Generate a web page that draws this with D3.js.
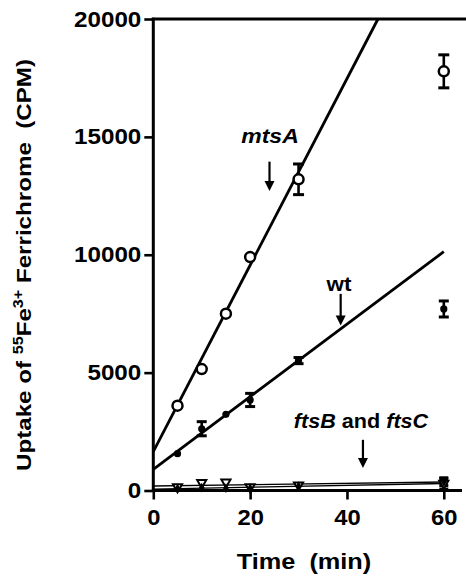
<!DOCTYPE html>
<html><head><meta charset="utf-8">
<script src="https://cdn.jsdelivr.net/npm/d3@7"></script>
<style>
html,body{margin:0;padding:0;background:#fff;}
svg text{font-family:"Liberation Sans",Arial,Helvetica,sans-serif;font-weight:bold;fill:#000;}
</style></head>
<body>
<svg id="chart" width="466" height="576"></svg>
<script>
// ---- data ----
const times = [5, 10, 15, 20, 30, 60];
const mtsA = [3600, 5150, 7500, 9900, 13200, 17780];
const mtsAErr = [0, 0, 0, 0, 650, 700];
const wt = [1560, 2620, 3230, 3840, 5510, 7700];
const wtErr = [0, 300, 0, 280, 130, 340];
const ftsB = [150, 330, 350, 150, 230, 300];
const ftsBErr = [0, 0, 0, 0, 0, 240];
const ftsC = [80, 120, 100, 100, 180, 360];
const ftsCErr = [0, 0, 0, 0, 0, 150];
const mtsAFit = [[0, 1650], [46.4, 20000]];
const wtFit = [[0, 900], [60, 10130]];
const ftsBFit = [[0, 190], [60, 360]];
const ftsCFit = [[0, 60], [60, 300]];
const xTicks = [0, 20, 40, 60];
const yTicks = [0, 5000, 10000, 15000, 20000];

const svg = d3.select("#chart");
const x = d3.scaleLinear().domain([0, 60]).range([153.3, 443.8]);
const y = d3.scaleLinear().domain([0, 20000]).range([490.5, 19]);

function stretch(sel, f) {
  sel.each(function () {
    const w = this.getComputedTextLength();
    d3.select(this).attr("textLength", w * f).attr("lengthAdjust", "spacingAndGlyphs");
  });
}

// fit lines
const line = d3.line().x(d => x(d[0])).y(d => y(d[1]));
[ftsBFit, ftsCFit].forEach(f => svg.append("path").attr("d", line(f))
  .attr("fill", "none").attr("stroke", "#000").attr("stroke-width", 1.4));
[mtsAFit, wtFit].forEach(f => svg.append("path").attr("d", line(f))
  .attr("fill", "none").attr("stroke", "#000").attr("stroke-width", 2.8));

// error bars
function errBars(vals, errs, cap) {
  times.forEach((t, i) => {
    if (!errs[i]) return;
    const g = svg.append("g").attr("stroke", "#000").attr("stroke-width", 2.6);
    g.append("line").attr("x1", x(t)).attr("x2", x(t)).attr("y1", y(vals[i] - errs[i])).attr("y2", y(vals[i] + errs[i]));
    [vals[i] - errs[i], vals[i] + errs[i]].forEach(v =>
      g.append("line").attr("x1", x(t) - cap).attr("x2", x(t) + cap).attr("y1", y(v)).attr("y2", y(v)).attr("stroke-width", 3));
  });
}
errBars(mtsA, mtsAErr, 5.5);
errBars(wt, wtErr, 5);
errBars(ftsB, ftsBErr, 4.5);
errBars(ftsC, ftsCErr, 4.5);

// markers
svg.selectAll(".mts").data(times).enter().append("circle")
  .attr("cx", d => x(d)).attr("cy", (d, i) => y(mtsA[i])).attr("r", 5)
  .attr("fill", "#fff").attr("stroke", "#000").attr("stroke-width", 2.5);
svg.selectAll(".wt").data(times).enter().append("circle")
  .attr("cx", d => x(d)).attr("cy", (d, i) => y(wt[i])).attr("r", 3.6)
  .attr("fill", "#000");
const tri = d3.symbol().type(d3.symbolTriangle).size(36);
svg.selectAll(".fb").data(times).enter().append("path")
  .attr("d", tri).attr("transform", (d, i) => `translate(${x(d)},${y(ftsB[i])}) rotate(180)`)
  .attr("fill", "#fff").attr("stroke", "#000").attr("stroke-width", 2);
const dia = d3.symbol().type(d3.symbolDiamond).size(28);
svg.selectAll(".fc").data(times).enter().append("path")
  .attr("d", dia).attr("transform", (d, i) => `translate(${x(d)},${y(ftsC[i])})`)
  .attr("fill", "#000");

// axes
const yAxis = d3.axisLeft(y).tickValues(yTicks).tickSize(9).tickPadding(3).tickFormat(d3.format("d"));
const gy = svg.append("g").attr("transform", `translate(${x(0)},0)`).call(yAxis);
gy.select(".domain").remove();
gy.selectAll(".tick line").attr("stroke-width", 2.6);
gy.selectAll(".tick text").attr("font-size", 22).call(stretch, 1.1);
svg.append("line").attr("x1", x(0)).attr("x2", x(0)).attr("y1", y(20000) - 1.3).attr("y2", y(0) + 1.3)
  .attr("stroke", "#000").attr("stroke-width", 3);

const xAxis = d3.axisBottom(x).tickValues(xTicks).tickSize(9).tickPadding(10);
const gx = svg.append("g").attr("transform", `translate(0,${y(0)})`).call(xAxis);
gx.select(".domain").remove();
gx.selectAll(".tick line").attr("stroke-width", 2.6);
gx.selectAll(".tick text").attr("font-size", 22).call(stretch, 1.08);
svg.append("line").attr("x1", x(0) - 1.5).attr("x2", 462).attr("y1", y(0)).attr("y2", y(0))
  .attr("stroke", "#000").attr("stroke-width", 3);
svg.append("line").attr("x1", x(0) - 1.5).attr("x2", 466).attr("y1", y(20000)).attr("y2", y(20000))
  .attr("stroke", "#000").attr("stroke-width", 3);

// axis titles
svg.append("text").attr("x", 304).attr("y", 569).attr("text-anchor", "middle")
  .attr("font-size", 22).attr("xml:space", "preserve").text("Time  (min)").call(stretch, 1.15);
const yt = svg.append("text").attr("transform", "translate(31,265) rotate(-90)")
  .attr("text-anchor", "middle").attr("font-size", 21).attr("xml:space", "preserve");
yt.append("tspan").text("Uptake of ");
yt.append("tspan").text("55").attr("font-size", 14).attr("dy", -8);
yt.append("tspan").text("Fe").attr("dy", 8);
yt.append("tspan").text("3+").attr("font-size", 14).attr("dy", -8);
yt.append("tspan").text(" Ferrichrome  (CPM)").attr("dy", 8);
stretch(yt, 1.15);

// annotations
function arrow(t, v0, v1) {
  const xx = x(t);
  svg.append("line").attr("x1", xx).attr("x2", xx).attr("y1", y(v0)).attr("y2", y(v1) - 8)
    .attr("stroke", "#000").attr("stroke-width", 2.2);
  svg.append("path").attr("d", `M${xx - 5},${y(v1) - 10}L${xx + 5},${y(v1) - 10}L${xx},${y(v1)}Z`).attr("fill", "#000");
}
svg.append("text").attr("x", 270).attr("y", 143).attr("text-anchor", "middle")
  .attr("font-size", 20).attr("font-style", "italic").text("mtsA").call(stretch, 1.15);
arrow(24.0, 13950, 12700);
svg.append("text").attr("x", 339).attr("y", 291).attr("text-anchor", "middle")
  .attr("font-size", 20).text("wt").call(stretch, 1.12);
arrow(38.7, 8340, 7000);
const ft = svg.append("text").attr("x", 361).attr("y", 428).attr("text-anchor", "middle").attr("font-size", 20)
  .attr("xml:space", "preserve");
ft.append("tspan").attr("font-style", "italic").text("ftsB");
ft.append("tspan").text(" and ");
ft.append("tspan").attr("font-style", "italic").text("ftsC");
stretch(ft, 1.08);
arrow(43.3, 2150, 950);
</script>
</body></html>
